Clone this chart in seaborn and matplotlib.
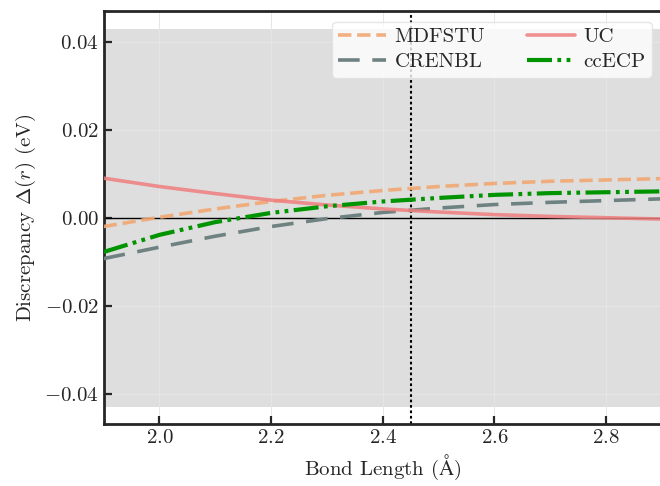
import numpy as np
import pandas as pd
import matplotlib
matplotlib.use("Agg")
import matplotlib.pyplot as plt
import seaborn as sns

# ---- data ----
bond_length = [1.9, 2.0, 2.1, 2.2, 2.3, 2.4, 2.5, 2.6, 2.7, 2.8, 2.9]
mdfstu = [-0.0020, 0.0001, 0.0020, 0.0037, 0.0051, 0.0062, 0.0071, 0.0078, 0.0083, 0.0086, 0.0089]
crenbl = [-0.0093, -0.0067, -0.0042, -0.0020, -0.0002, 0.0012, 0.0022, 0.0030, 0.0035, 0.0039, 0.0043]
uc = [0.0090, 0.0071, 0.0055, 0.0040, 0.0029, 0.0020, 0.0013, 0.0007, 0.0003, 0.0000, -0.0003]
ccecp = [-0.0078, -0.0039, -0.0010, 0.0011, 0.0026, 0.0037, 0.0045, 0.0052, 0.0056, 0.0058, 0.0060]
methods = ["MDFSTU", "CRENBL", "UC", "ccECP"]
equilibrium = 2.45
band = 0.043
x_ticks = [2.0, 2.2, 2.4, 2.6, 2.8]
y_ticks = [-0.04, -0.02, 0.00, 0.02, 0.04]

series = {"MDFSTU": mdfstu, "CRENBL": crenbl, "UC": uc, "ccECP": ccecp}
df = pd.concat(
    [pd.DataFrame({"r": bond_length, "delta": v, "method": k}) for k, v in series.items()],
    ignore_index=True,
)

sns.set_style("ticks")
plt.rcParams["font.family"] = ["cmr10", "DejaVu Serif"]
plt.rcParams["mathtext.fontset"] = "cm"
plt.rcParams["axes.formatter.use_mathtext"] = True
plt.rcParams["axes.unicode_minus"] = True

palette = {"MDFSTU": "#f2a873", "CRENBL": "#6f8282", "UC": "#f07e7e", "ccECP": "#009400"}
dashes = {
    "MDFSTU": (3.7, 1.6),
    "CRENBL": (6, 3.5),
    "UC": "",
    "ccECP": (6.0, 1.3, 0.9, 1.3, 0.9, 1.3),
}

fig = plt.figure(figsize=(6.6, 4.86), dpi=100)
ax = fig.add_axes([0.157, 0.127, 0.846, 0.850])

ax.axhspan(-band, band, color="#dedede", zorder=0, lw=0)
ax.grid(True, color="#e6e6e6", lw=0.7)
ax.set_axisbelow(True)
ref_lines = [
    ax.axhline(0, color="black", lw=1.0, zorder=1.5),
    ax.axvline(equilibrium, color="black", lw=1.5, ls=(0, (1.3, 1.3)), zorder=1.6),
]

sns.lineplot(
    data=df, x="r", y="delta", hue="method", style="method",
    hue_order=methods, style_order=methods, palette=palette, dashes=dashes,
    lw=2.6, ax=ax, zorder=3,
)
handles, labels = ax.get_legend_handles_labels()
data_lines = [l for l in ax.lines if l not in ref_lines]
for line in data_lines + list(handles):
    c = matplotlib.colors.to_hex(line.get_color())
    line.set_linewidth(2.6)
    if c == palette["UC"]:
        line.set_alpha(0.85)
    if c == palette["MDFSTU"]:
        line.set_alpha(0.9)
    if c == palette["ccECP"]:
        line.set_linewidth(3.0)

leg = ax.legend(handles, labels, ncol=2, loc="upper right", fontsize=15,
                handlelength=2.3, handletextpad=0.4, labelspacing=0.3,
                borderpad=0.3, columnspacing=2.0,
                frameon=True, fancybox=True, framealpha=0.8,
                edgecolor="#e0e0e0")

ax.set_xlim(1.9, 2.9)
ax.set_ylim(-0.047, 0.047)
ax.set_xticks(x_ticks)
ax.set_yticks(y_ticks)
ax.set_xlabel(r"Bond Length ($\mathrm{\AA}$)", fontsize=15)
ax.set_ylabel(r"Discrepancy $\Delta(r)$ (eV)", fontsize=15)
ax.tick_params(direction="in", length=6, width=1.6, labelsize=15, top=False, right=False)
for s in ["left", "bottom", "top"]:
    ax.spines[s].set_linewidth(2.0)
    ax.spines[s].set_visible(True)
ax.spines["right"].set_visible(False)

fig.savefig("out.png", dpi=100)
